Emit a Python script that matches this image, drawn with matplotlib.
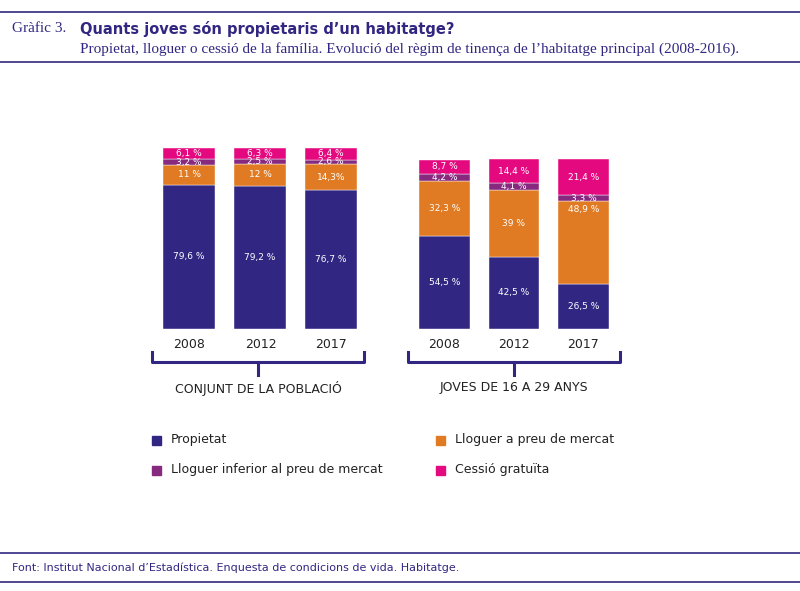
import matplotlib
matplotlib.use("Agg")
import matplotlib.pyplot as plt
from matplotlib.patches import Rectangle

# Data
years = ["2008", "2012", "2017"]
groups = ["CONJUNT DE LA POBLACIÓ", "JOVES DE 16 A 29 ANYS"]
series = ["Propietat", "Lloguer a preu de mercat", "Lloguer inferior al preu de mercat", "Cessió gratuïta"]
colors = ["#312782", "#E07B24", "#872A7F", "#E5097F"]
all_prop = [79.6, 79.2, 76.7]
all_mercat = [11, 12, 14.3]
all_inferior = [3.2, 2.5, 2.6]
all_cessio = [6.1, 6.3, 6.4]
young_prop = [54.5, 42.5, 26.5]
young_mercat = [32.3, 39, 48.9]
young_inferior = [4.2, 4.1, 3.3]
young_cessio = [8.7, 14.4, 21.4]
labels_all = [["79,6 %", "79,2 %", "76,7 %"], ["11 %", "12 %", "14,3%"],
              ["3,2 %", "2,5 %", "2,6 %"], ["6,1 %", "6,3 %", "6,4 %"]]
labels_young = [["54,5 %", "42,5 %", "26,5 %"], ["32,3 %", "39 %", "48,9 %"],
                ["4,2 %", "4,1 %", "3,3 %"], ["8,7 %", "14,4 %", "21,4 %"]]

W, H = 800, 591
navy = "#312782"
fig = plt.figure(figsize=(W / 100, H / 100), dpi=100)

def px(x0, y0, x1, y1):
    # pixel box (top-left origin) -> figure fraction
    return [x0 / W, 1 - y1 / H, (x1 - x0) / W, (y1 - y0) / H]

def stacked(ax, data, labels):
    bottom = [0, 0, 0]
    for s, vals in enumerate(data):
        ax.bar(range(3), vals, bottom=bottom, width=0.73, color=colors[s],
               edgecolor="white", linewidth=0.3)
        for i, v in enumerate(vals):
            yc = bottom[i] + v / 2
            if s == 1 and v > 40:
                yc = bottom[i] + v * 0.9
            ax.text(i, yc, labels[s][i], ha="center", va="center", color="white",
                    fontsize=6.5, fontfamily="DejaVu Sans")
        bottom = [b + v for b, v in zip(bottom, vals)]
    ax.set_xlim(-0.5, 2.5)
    ax.set_ylim(0, 100)
    ax.axis("off")

ax1 = fig.add_axes(px(153.5, 148, 366.5, 329))
stacked(ax1, [all_prop, all_mercat, all_inferior, all_cessio], labels_all)
ax2 = fig.add_axes(px(409.75, 159, 618.25, 329))
stacked(ax2, [young_prop, young_mercat, young_inferior, young_cessio], labels_young)

def ftext(x, y, s, **kw):
    fig.text(x / W, 1 - y / H, s, **kw)

def fline(xs, ys, **kw):
    fig.add_artist(plt.Line2D([x / W for x in xs], [1 - y / H for y in ys], **kw))

# years, brackets, group labels
for centers, (x0, x1), g in [([189.5, 260.5, 331.5], (152, 364), groups[0]),
                             ([444.5, 513.5, 583.5], (408, 620), groups[1])]:
    for c, yr in zip(centers, years):
        ftext(c, 345, yr, ha="center", va="center", fontsize=9, color="#222222")
    fline([x0, x0, x1, x1], [352, 362, 362, 352], color=navy, lw=2.2)
    mid = (x0 + x1) / 2
    fline([mid, mid], [362, 375], color=navy, lw=2.2)
    ftext(mid, 388, g, ha="center", va="center", fontsize=9, color="#222222")

# legend
for (x, y), s, c in [((152, 440), series[0], colors[0]), ((436, 440), series[1], colors[1]),
                     ((152, 470), series[2], colors[2]), ((436, 470), series[3], colors[3])]:
    fig.add_artist(Rectangle((x / W, 1 - (y + 4.5) / H), 9 / W, 9 / H, color=c,
                             transform=fig.transFigure))
    ftext(x + 19, y, s, va="center", fontsize=9, color="#222222")

# header
fline([0, 800], [12, 12], color=navy, lw=1.2)
fline([0, 800], [62, 62], color=navy, lw=1.2)
ftext(12, 29, "Gràfic 3.", va="center", fontsize=11, color=navy, fontfamily="Liberation Serif")
ftext(80, 29, "Quants joves són propietaris d’un habitatge?", va="center", fontsize=10.5,
      color=navy, fontweight="bold")
ftext(80, 49, "Propietat, lloguer o cessió de la família. Evolució del règim de tinença de l’habitatge principal (2008-2016).",
      va="center", fontsize=11, color=navy, fontfamily="Liberation Serif")

# footer
fline([0, 800], [553, 553], color=navy, lw=1.2)
fline([0, 800], [582, 582], color=navy, lw=1.2)
ftext(12, 568, "Font: Institut Nacional d’Estadística. Enquesta de condicions de vida. Habitatge.",
      va="center", fontsize=8, color=navy)

fig.savefig("out.png", dpi=100)
